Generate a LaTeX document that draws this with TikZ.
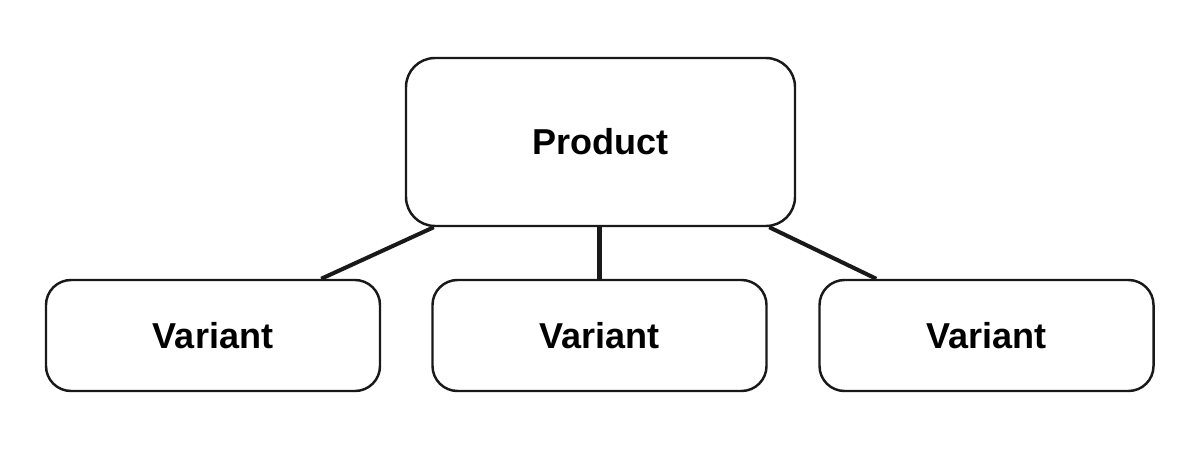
\documentclass[tikz,border=0pt]{standalone}
\usepackage{fontspec}
\setmainfont{Liberation Sans}
\usetikzlibrary{shapes,arrows}
\tikzset{
  box/.style={draw=black!90,line width=1.4pt,rounded corners=0.58cm,fill=white,
    font=\fontsize{20.5}{24}\selectfont\bfseries,inner sep=0pt},
  link/.style={draw=black!90,line width=2.3pt}
}
\begin{document}
\begin{tikzpicture}
        \useasboundingbox (0,0) rectangle (24,9.4);
        \def\vy{2.69}
        \def\vw{6.68}
        \def\vh{2.22}
        \node[box,minimum width=7.78cm,minimum height=3.36cm] (prod) at (12.01,6.56) {Product};
        \node[box,minimum width=\vw cm,minimum height=\vh cm,rounded corners=0.5cm] (va) at (4.26,\vy) {Variant};
        \node[box,minimum width=\vw cm,minimum height=\vh cm,rounded corners=0.5cm] (vb) at (11.99,\vy) {Variant};
        \node[box,minimum width=\vw cm,minimum height=\vh cm,rounded corners=0.5cm] (vc) at (19.73,\vy) {Variant};
        \draw[link] ([xshift=0.58cm]prod.south west) -- ([xshift=-1.2cm]va.north east);
        \draw[link] (prod.south -| vb.north) -- (vb.north);
        \draw[link] ([xshift=-0.54cm]prod.south east) -- ([xshift=1.16cm]vc.north west);
\end{tikzpicture}
\end{document}
